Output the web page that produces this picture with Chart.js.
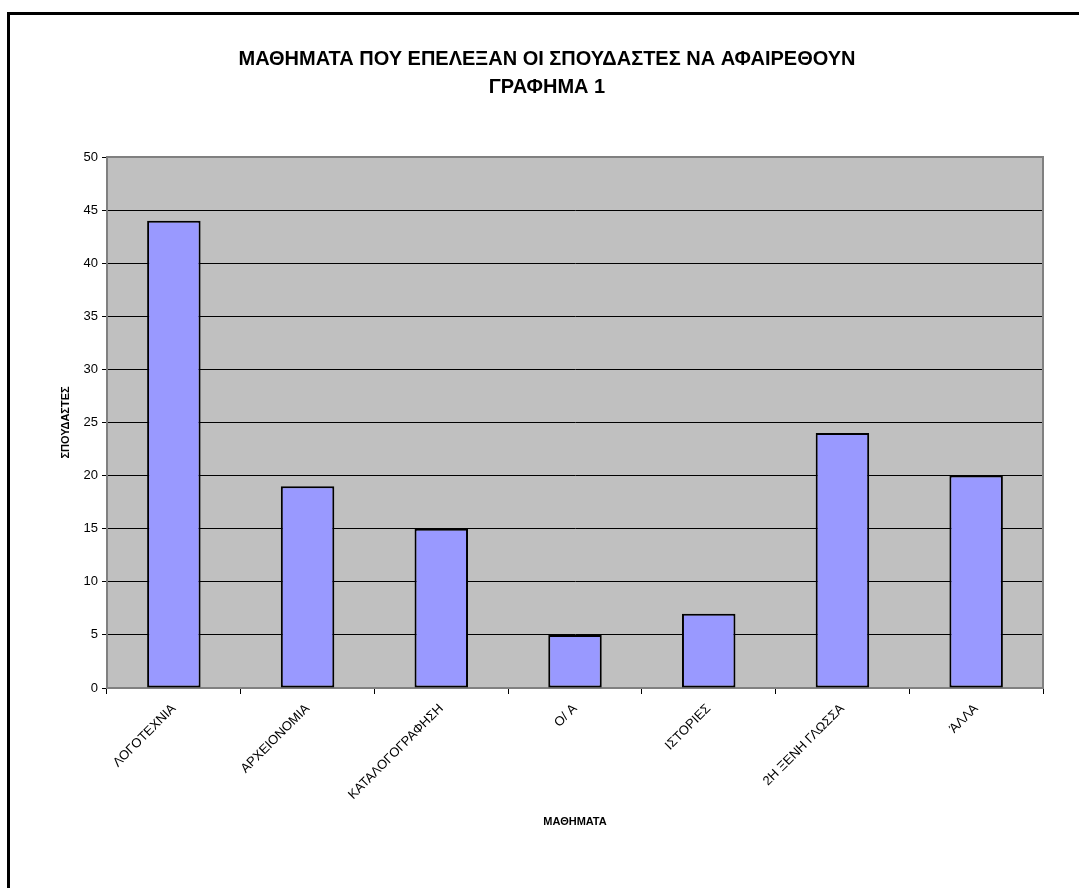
<!DOCTYPE HTML>
<html>

<head>
    <meta charset="UTF-8">
    <title>ΜΑΘΗΜΑΤΑ ΠΟΥ ΕΠΕΛΕΞΑΝ ΟΙ ΣΠΟΥΔΑΣΤΕΣ</title>
    <script src="https://cdn.jsdelivr.net/npm/chart.js"></script>
    <style>
        html, body { margin: 0; padding: 0; background: #fff; }
        #wrap { width: 1079px; height: 888px; }
    </style>
</head>

<body>
    <div id="wrap"><canvas id="myChart" width="1079" height="888"></canvas></div>
    <script>
        // data
        var titleLines = ['ΜΑΘΗΜΑΤΑ ΠΟΥ ΕΠΕΛΕΞΑΝ ΟΙ ΣΠΟΥΔΑΣΤΕΣ ΝΑ ΑΦΑΙΡΕΘΟΥΝ', 'ΓΡΑΦΗΜΑ 1'];
        var subjects = ['ΛΟΓΟΤΕΧΝΙΑ', 'ΑΡΧΕΙΟΝΟΜΙΑ', 'ΚΑΤΑΛΟΓΟΓΡΑΦΗΣΗ', 'Ο/ Α', 'ΙΣΤΟΡΙΕΣ', '2Η ΞΕΝΗ ΓΛΩΣΣΑ', 'ΆΛΛΑ'];
        var students = [44, 19, 15, 5, 7, 24, 20];
        var yTicks = { min: 0, max: 50, step: 5 };
        var xTitle = 'ΜΑΘΗΜΑΤΑ';
        var yTitle = 'ΣΠΟΥΔΑΣΤΕΣ';

        Chart.defaults.font.family = '"Liberation Sans", Arial, sans-serif';
        Chart.defaults.color = '#000';

        // grey plot area + frame round the whole chart
        var frame = {
            id: 'frame',
            beforeDraw: function (chart) {
                var c = chart.ctx, a = chart.chartArea;
                c.save();
                c.fillStyle = '#fff';
                c.fillRect(0, 0, chart.width, chart.height);
                c.lineWidth = 3;
                c.strokeStyle = '#000';
                c.strokeRect(8.5, 13.5, 2000, 2000);
                c.fillStyle = '#c0c0c0';
                c.fillRect(a.left, a.top, a.right - a.left, a.bottom - a.top);
                c.restore();
            },
            beforeDatasetsDraw: function (chart) {
                var c = chart.ctx, a = chart.chartArea;
                c.save();
                c.lineWidth = 2;
                c.strokeStyle = '#808080';
                c.strokeRect(a.left, a.top, a.right - a.left, a.bottom - a.top);
                c.restore();
            }
        };

        var ctx = document.getElementById('myChart').getContext('2d');
        var chart = new Chart(ctx, {
            type: 'bar',
            data: {
                labels: subjects,
                datasets: [{
                    label: yTitle,
                    data: students,
                    backgroundColor: '#9999ff',
                    borderColor: '#000',
                    borderWidth: 2,
                    borderSkipped: false,
                    barPercentage: 0.4,
                    categoryPercentage: 1
                }]
            },
            plugins: [frame],
            options: {
                responsive: false,
                animation: false,
                layout: { padding: { top: 20, left: 15, right: 0, bottom: 45 } },
                plugins: {
                    legend: { display: false },
                    tooltip: { enabled: false },
                    title: {
                        display: true,
                        text: titleLines,
                        font: { size: 20, weight: 'bold', lineHeight: 1.4 },
                        padding: { top: 25, bottom: 56 }
                    }
                },
                scales: {
                    x: {
                        grid: { offset: true, drawOnChartArea: false, drawTicks: true, tickLength: 6, color: '#000' },
                        border: { color: '#000', width: 1 },
                        ticks: { minRotation: 45, maxRotation: 45, autoSkip: false, font: { size: 13 }, padding: 7 },
                        title: { display: true, text: xTitle, font: { size: 11, weight: 'bold' }, padding: { top: 4, bottom: 14 } },
                        afterFit: function (s) { s.height = 155; }
                    },
                    y: {
                        min: yTicks.min,
                        max: yTicks.max,
                        grid: { color: '#000', lineWidth: 1, tickLength: 5, drawTicks: true },
                        border: { color: '#808080', width: 2 },
                        ticks: { stepSize: yTicks.step, font: { size: 13 }, padding: 4 },
                        title: { display: true, text: yTitle, font: { size: 11, weight: 'bold' }, padding: { top: 44, bottom: 4 } },
                        afterFit: function (s) { s.width = 92; }
                    },
                    yRight: {
                        position: 'right',
                        display: true,
                        min: 0,
                        max: 1,
                        grid: { display: false },
                        border: { display: false },
                        ticks: { display: false },
                        afterFit: function (s) { s.width = 36; }
                    }
                }
            }
        });
    </script>
</body>

</html>
